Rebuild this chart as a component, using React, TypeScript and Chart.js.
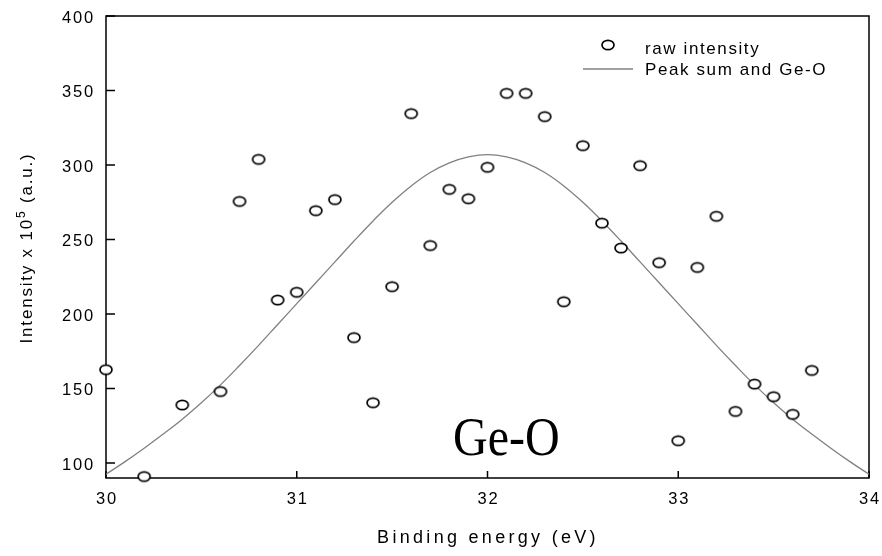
import { useEffect, useRef } from 'react';
import { Chart, registerables } from 'chart.js';

Chart.register(...registerables);

// Raw intensity (binding energy eV, intensity x 10^5)
const rawEnergy = [30.0, 30.2, 30.4, 30.6, 30.7, 30.8, 30.9, 31.0, 31.1, 31.2, 31.3, 31.4, 31.5, 31.6, 31.7, 31.8, 31.9, 32.0, 32.1, 32.2, 32.3, 32.4, 32.5, 32.6, 32.7, 32.8, 32.9, 33.0, 33.1, 33.2, 33.3, 33.4, 33.5, 33.6, 33.7];
const rawIntensity = [162.7, 91, 139, 148, 275.6, 303.8, 209.4, 214.6, 269.4, 276.8, 184.2, 140.5, 218.4, 334.5, 246, 283.7, 277.4, 298.5, 348.1, 348.1, 332.5, 208.3, 313, 261, 244.3, 299.6, 234.5, 115, 231.3, 265.6, 134.7, 153, 144.6, 132.7, 162.2];

// Peak sum and Ge-O fit curve
const fitEnergy = [30.0, 30.1, 30.2, 30.3, 30.4, 30.5, 30.6, 30.7, 30.8, 30.9, 31.0, 31.1, 31.2, 31.3, 31.4, 31.5, 31.6, 31.7, 31.8, 31.9, 32.0, 32.1, 32.2, 32.3, 32.4, 32.5, 32.6, 32.7, 32.8, 32.9, 33.0, 33.1, 33.2, 33.3, 33.4, 33.5, 33.6, 33.7, 33.8, 33.9, 34.0];
const fitIntensity = [92.5, 101, 110, 119.5, 129.5, 140.5, 152.5, 165.5, 179, 193, 207, 221, 235, 249, 262.5, 275, 286, 295, 301.5, 305.5, 307, 305.5, 301.5, 295, 286, 275, 262.5, 249, 235, 221, 207, 193, 179, 165.5, 152.5, 140.5, 129.5, 119.5, 110, 101, 92.5];

const xTicks = [30, 31, 32, 33, 34];
const yTicks = [100, 150, 200, 250, 300, 350, 400];

const legendLabels = ['raw intensity', 'Peak sum and Ge-O'];
const xTitle = 'Binding energy (eV)';
const yTitleMain = 'Intensity x 10';
const yTitleSup = '5';
const yTitleTail = ' (a.u.)';
const annotation = 'Ge-O';

function makeMarker(): HTMLCanvasElement {
  const c = document.createElement('canvas');
  c.width = 16;
  c.height = 14;
  const g = c.getContext('2d')!;
  g.beginPath();
  g.ellipse(8, 7, 6, 4.7, 0, 0, Math.PI * 2);
  g.fillStyle = '#ffffff';
  g.fill();
  g.lineWidth = 1.7;
  g.strokeStyle = '#000000';
  g.stroke();
  return c;
}

export default function App() {
  const ref = useRef<HTMLCanvasElement | null>(null);

  useEffect(() => {
    const canvas = ref.current;
    if (!canvas) return;
    const marker = makeMarker();

    const setSpacing = (ctx: any, px: number) => {
      if ('letterSpacing' in ctx) ctx.letterSpacing = px + 'px';
    };

    const decor = {
      id: 'decor',
      beforeDatasetsDraw(chart: any) {
        const { ctx, chartArea } = chart;
        const { left, right, top, bottom } = chartArea;
        const xs = chart.scales.x;
        const ys = chart.scales.y;
        ctx.save();
        ctx.strokeStyle = '#000';
        ctx.lineWidth = 1.5;
        ctx.strokeRect(left, top, right - left, bottom - top);
        ctx.beginPath();
        for (const v of xTicks) {
          const px = xs.getPixelForValue(v);
          ctx.moveTo(px, bottom);
          ctx.lineTo(px, bottom - 7);
        }
        for (const v of yTicks) {
          const py = ys.getPixelForValue(v);
          ctx.moveTo(left, py);
          ctx.lineTo(left + 9, py);
        }
        ctx.stroke();
        ctx.restore();
      },
      afterDraw(chart: any) {
        const { ctx, chartArea } = chart;
        const { left, bottom } = chartArea;
        const xs = chart.scales.x;
        const ys = chart.scales.y;
        ctx.save();
        ctx.fillStyle = '#000';
        // tick labels
        ctx.font = '16.5px "Liberation Sans", Arial, sans-serif';
        setSpacing(ctx, 1.8);
        ctx.textBaseline = 'alphabetic';
        ctx.textAlign = 'center';
        for (const v of xTicks) {
          ctx.fillText(String(v), xs.getPixelForValue(v) + 1, bottom + 26);
        }
        ctx.textAlign = 'right';
        for (const v of yTicks) {
          ctx.fillText(String(v), left - 11, ys.getPixelForValue(v) + 6.5);
        }
        // x title
        ctx.font = '18px "Liberation Sans", Arial, sans-serif';
        setSpacing(ctx, 3.3);
        ctx.textAlign = 'center';
        ctx.fillText(xTitle, 488, 543);
        // y title (rotated)
        ctx.save();
        ctx.translate(32, 248);
        ctx.rotate(-Math.PI / 2);
        ctx.textAlign = 'left';
        ctx.font = '17px "Liberation Sans", Arial, sans-serif';
        setSpacing(ctx, 1.8);
        const w1 = ctx.measureText(yTitleMain).width;
        const w3 = ctx.measureText(yTitleTail).width;
        ctx.font = '12px "Liberation Sans", Arial, sans-serif';
        const w2 = ctx.measureText(yTitleSup).width;
        const total = w1 + w2 + w3;
        let x0 = -total / 2;
        ctx.font = '17px "Liberation Sans", Arial, sans-serif';
        ctx.fillText(yTitleMain, x0, 0);
        x0 += w1;
        ctx.font = '12px "Liberation Sans", Arial, sans-serif';
        ctx.fillText(yTitleSup, x0, -7);
        x0 += w2;
        ctx.font = '17px "Liberation Sans", Arial, sans-serif';
        ctx.fillText(yTitleTail, x0, 0);
        ctx.restore();
        // legend
        ctx.drawImage(marker, 608 - 8, 45 - 7);
        ctx.strokeStyle = '#808080';
        ctx.lineWidth = 1.3;
        ctx.beginPath();
        ctx.moveTo(583, 69);
        ctx.lineTo(633, 69);
        ctx.stroke();
        ctx.font = '17px "Liberation Sans", Arial, sans-serif';
        setSpacing(ctx, 1.6);
        ctx.textAlign = 'left';
        ctx.fillText(legendLabels[0], 645, 54);
        ctx.fillText(legendLabels[1], 645, 75);
        // annotation
        ctx.save();
        setSpacing(ctx, 0);
        ctx.translate(453, 455);
        ctx.scale(0.89, 1);
        ctx.font = '54px "Liberation Serif", "Times New Roman", serif';
        ctx.textAlign = 'left';
        ctx.fillText(annotation, 0, 0);
        ctx.restore();
        ctx.restore();
      },
    };

    const chart = new Chart(canvas, {
      type: 'scatter',
      data: {
        datasets: [
          {
            label: legendLabels[0],
            data: rawEnergy.map((x, i) => ({ x, y: rawIntensity[i] })),
            pointStyle: marker as any,
            pointRadius: 6,
            showLine: false,
            clip: false as any,
          },
          {
            label: legendLabels[1],
            data: fitEnergy.map((x, i) => ({ x, y: fitIntensity[i] })),
            showLine: true,
            borderColor: '#808080',
            borderWidth: 1.3,
            pointRadius: 0,
            tension: 0.4,
            fill: false,
          } as any,
        ],
      },
      options: {
        responsive: false,
        animation: false,
        devicePixelRatio: 1,
        layout: { padding: { left: 106, right: 13, top: 16, bottom: 78 } },
        plugins: { legend: { display: false }, tooltip: { enabled: false } },
        events: [],
        scales: {
          x: { type: 'linear', min: 30, max: 34, display: false },
          y: { type: 'linear', min: 90, max: 400, display: false },
        },
      },
      plugins: [decor],
    });

    return () => chart.destroy();
  }, []);

  return (
    <div style={{ position: 'fixed', left: 0, top: 0, width: 882, height: 556, background: '#fff' }}>
      <canvas ref={ref} width={882} height={556} style={{ display: 'block', width: 882, height: 556 }} />
    </div>
  );
}
